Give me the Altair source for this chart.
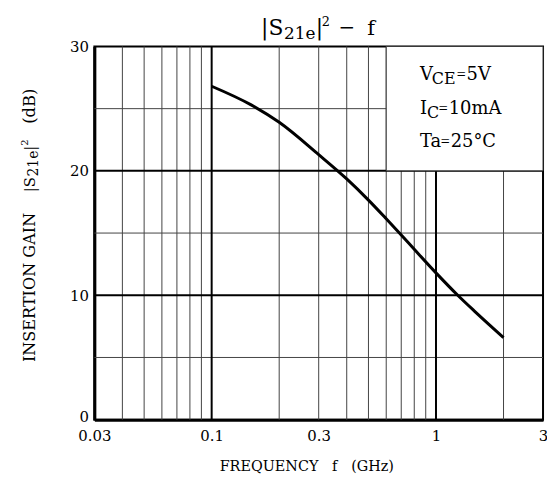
import altair as alt
import pandas as pd

# ---- data ----
freq = [0.1, 0.15, 0.2, 0.3, 0.4, 0.5, 0.6, 0.7, 0.8, 1.0, 1.25, 1.5, 2.0]
gain = [26.8, 25.3, 23.9, 21.3, 19.35, 17.65, 16.15, 14.85, 13.7, 11.8, 10.0, 8.65, 6.6]

minor_x = [0.04, 0.05, 0.06, 0.07, 0.08, 0.09, 0.2, 0.3, 0.4, 0.5, 0.6, 0.7, 0.8, 0.9, 2.0]
major_x = [0.1, 1.0]
minor_y = [5, 15, 25]
major_y = [10, 20]
x_ticks = [0.03, 0.1, 0.3, 1, 3]
y_ticks = [0, 10, 20, 30]
box_f = [0.6, 3.0]
box_g = [20, 30]

title_parts = ["|S", "21e", "|", "2", "\u2212", "f"]
ytitle_parts = ["INSERTION\u00a0GAIN", "|S", "21e", "|", "2", "(dB)"]
xtitle = "FREQUENCY\u00a0\u00a0\u00a0f\u00a0\u00a0\u00a0(GHz)"
cond_parts = ["V", "CE", "=", "5V", "I", "C", "=", "10mA", "Ta", "=", "25\u00b0C"]

FONT = "DejaVu Serif"
W, H = 452, 376

xs = alt.Scale(type="log", domain=[0.03, 3], nice=False)
ys = alt.Scale(domain=[0, 30], nice=False)
xax = alt.Axis(values=x_ticks, format="~g", title=None, grid=False, ticks=False,
               labelFlush=False, labelPadding=9, domainWidth=3, domainColor="black")
yax = alt.Axis(values=y_ticks, title=None, grid=False, ticks=False,
               labelPadding=6, domainWidth=3, domainColor="black",
               labelOffset={"condition": {"test": "datum.value === 0", "value": -3}, "value": 0})

curve_df = pd.DataFrame({"f": freq, "g": gain})

vminor = alt.Chart(pd.DataFrame({"f": minor_x})).mark_rule(color="#444", strokeWidth=1).encode(
    x=alt.X("f:Q", scale=xs, axis=xax))
vmajor = alt.Chart(pd.DataFrame({"f": major_x})).mark_rule(color="black", strokeWidth=2).encode(
    x=alt.X("f:Q", scale=xs, axis=xax))
hminor = alt.Chart(pd.DataFrame({"g": minor_y})).mark_rule(color="#444", strokeWidth=1).encode(
    y=alt.Y("g:Q", scale=ys, axis=yax))
hmajor = alt.Chart(pd.DataFrame({"g": major_y})).mark_rule(color="black", strokeWidth=2).encode(
    y=alt.Y("g:Q", scale=ys, axis=yax))

box = alt.Chart(pd.DataFrame({"f": [box_f[0]], "f2": [box_f[1]], "g": [box_g[0]], "g2": [box_g[1]]})).mark_rect(
    fill="white", stroke="#333", strokeWidth=1).encode(
    x=alt.X("f:Q", scale=xs, axis=xax), x2="f2:Q",
    y=alt.Y("g:Q", scale=ys, axis=yax), y2="g2:Q")

curve = alt.Chart(curve_df).mark_line(color="black", strokeWidth=3, interpolate="monotone").encode(
    x=alt.X("f:Q", scale=xs, axis=xax),
    y=alt.Y("g:Q", scale=ys, axis=yax))


def txt(s, x, y, size, angle=0, align="left", font=FONT):
    return alt.Chart(alt.Data(values=[{"t": s}])).mark_text(
        align=align, baseline="alphabetic", fontSize=size, font=font, angle=angle, color="black"
    ).encode(x=alt.value(x), y=alt.value(y), text="t:N")


texts = [
    # chart title
    txt(title_parts[0], 168, -12, 22),
    txt(title_parts[1], 191, -8, 17),
    txt(title_parts[2], 223, -12, 22),
    txt(title_parts[3], 229, -21, 13),
    txt(title_parts[4], 246, -13, 20),
    txt(title_parts[5], 275, -12, 21),
    # x title
    txt(xtitle, 214, 428, 14.5, align="center"),
    # y title (rotated)
    txt(ytitle_parts[0], -60, 318, 16.2, angle=270),
    txt(ytitle_parts[1], -60, 147, 15, angle=270),
    txt(ytitle_parts[2], -57, 131, 14, angle=270),
    txt(ytitle_parts[3], -60, 105, 15, angle=270),
    txt(ytitle_parts[4], -67, 100, 10, angle=270),
    txt(ytitle_parts[5], -60, 78, 16.5, angle=270),
    # conditions
    txt(cond_parts[0], 328, 34, 18),
    txt(cond_parts[1], 340, 38, 16),
    txt(cond_parts[2], 365, 34, 16, font="Liberation Serif"),
    txt(cond_parts[3], 375, 34, 18),
    txt(cond_parts[4], 328, 68, 18),
    txt(cond_parts[5], 335, 72, 16),
    txt(cond_parts[6], 347, 68, 16, font="Liberation Serif"),
    txt(cond_parts[7], 357, 68, 18),
    txt(cond_parts[8], 328, 101, 18),
    txt(cond_parts[9], 349, 101, 16, font="Liberation Serif"),
    txt(cond_parts[10], 359, 101, 18),
]

chart = alt.layer(vminor, hminor, vmajor, hmajor, box, curve, *texts).properties(
    width=W, height=H,
    autosize=alt.AutoSizeParams(type="none"),
    padding={"left": 87, "top": 37, "right": 4, "bottom": 53},
    background="white",
).configure_view(stroke="black", strokeWidth=2).configure_axis(
    labelFont=FONT, labelFontSize=15, labelColor="black"
)

chart.save("out.html", embed_options={"renderer": "svg", "actions": False})
